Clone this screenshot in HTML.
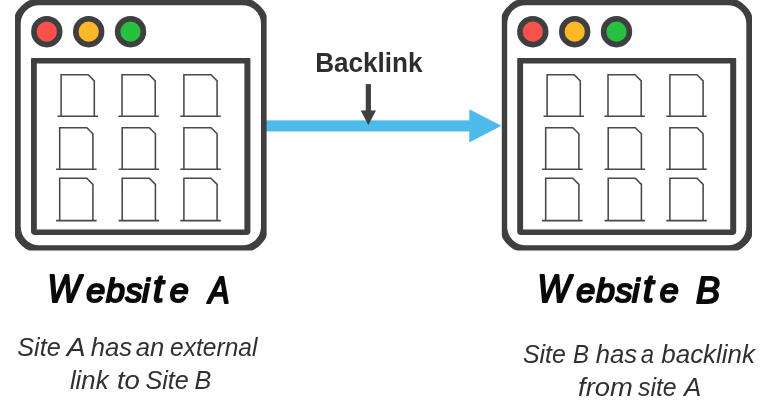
<!DOCTYPE html>
<html lang="en">
<head>
<meta charset="utf-8">
<title>Backlink</title>
<style>
html,body{margin:0;padding:0;background:#fff;}
body{width:780px;height:420px;overflow:hidden;position:relative;font-family:"Liberation Sans",sans-serif;}
svg{position:absolute;left:0;top:0;display:block;will-change:transform;}
text{font-family:"Liberation Sans",sans-serif;}
.hand{font-style:italic;fill:#0a0a0a;stroke:#0a0a0a;stroke-width:2px;stroke-linejoin:round;stroke-linecap:round;}
.cap{font-style:italic;fill:#303030;}
.lbl{font-weight:bold;fill:#2e2e2e;}
</style>
</head>
<body>
<svg width="780" height="420" viewBox="0 0 780 420">
<rect width="780" height="420" fill="#ffffff"/>
<!-- blue arrow -->
<rect x="264" y="120.35" width="207" height="11.1" fill="#4cbbeb"/>
<path d="M469.3 109.2L501.4 125.8L469.3 142.5Z" fill="#4cbbeb"/>
<!-- small arrow -->
<rect x="365.75" y="84.1" width="5.2" height="27" fill="#3f3f41"/>
<path d="M360.7 110.4H376.0L368.35 125.0Z" fill="#3f3f41"/>
<path fill="#3f3f41" fill-rule="evenodd" d="M31.25 -0.10H250.35C255.23 -0.10 266.60 11.28 266.60 16.15V235.20C266.60 239.82 255.82 250.60 251.20 250.60H30.40C25.78 250.60 15.00 239.82 15.00 235.20V16.15C15.00 11.28 26.38 -0.10 31.25 -0.10ZM39.20 5.20H242.50A18.5 18.5 0 0 1 261.00 23.70V226.85A18.5 18.5 0 0 1 242.50 245.35H39.20A18.5 18.5 0 0 1 20.70 226.85V23.70A18.5 18.5 0 0 1 39.20 5.20Z"/>
<path fill="#3f3f41" fill-rule="evenodd" d="M32.00 58.10H249.40C249.95 58.10 250.40 58.55 250.40 59.10V231.40C250.40 233.39 248.79 235.00 246.80 235.00H34.60C32.61 235.00 31.00 233.39 31.00 231.40V59.10C31.00 58.55 31.45 58.10 32.00 58.10ZM37.10 63.40H244.10A0.3 0.3 0 0 1 244.40 63.70V229.20A0.3 0.3 0 0 1 244.10 229.50H37.10A0.3 0.3 0 0 1 36.80 229.20V63.70A0.3 0.3 0 0 1 37.10 63.40Z"/>
<circle cx="46.8" cy="31.7" r="12.9" fill="#f9524a" stroke="#3f3f41" stroke-width="5.6"/>
<circle cx="88.7" cy="31.7" r="12.9" fill="#fdb827" stroke="#3f3f41" stroke-width="5.6"/>
<circle cx="130.5" cy="31.7" r="12.9" fill="#27c13f" stroke="#3f3f41" stroke-width="5.6"/>
<path d="M57.5 116.3H98.0M61.1 116.3V74.8H88.2L94.3 80.9V116.3M118.4 116.3H158.9M122.0 116.3V74.8H149.1L155.2 80.9V116.3M180.3 116.3H220.8M183.9 116.3V74.8H211.0L217.1 80.9V116.3M56.1 169.2H96.6M59.7 169.2V127.7H86.8L92.9 133.8V169.2M118.6 169.2H159.1M122.2 169.2V127.7H149.3L155.4 133.8V169.2M180.3 169.2H220.8M183.9 169.2V127.7H211.0L217.1 133.8V169.2M56.1 220.6H96.6M59.7 220.6V178.3H86.8L92.9 184.4V220.6M118.6 220.6H159.1M122.2 220.6V178.3H149.3L155.4 184.4V220.6M180.3 220.6H220.8M183.9 220.6V178.3H211.0L217.1 184.4V220.6" fill="none" stroke="#48484a" stroke-width="1.55" stroke-linejoin="miter"/>
<path fill="#3f3f41" fill-rule="evenodd" d="M518.05 -0.10H735.75C740.62 -0.10 752.00 11.28 752.00 16.15V235.20C752.00 239.82 741.22 250.60 736.60 250.60H517.20C512.58 250.60 501.80 239.82 501.80 235.20V16.15C501.80 11.28 513.17 -0.10 518.05 -0.10ZM525.70 5.20H727.80A18.5 18.5 0 0 1 746.30 23.70V226.85A18.5 18.5 0 0 1 727.80 245.35H525.70A18.5 18.5 0 0 1 507.20 226.85V23.70A18.5 18.5 0 0 1 525.70 5.20Z"/>
<path fill="#3f3f41" fill-rule="evenodd" d="M518.20 58.10H735.20C735.75 58.10 736.20 58.55 736.20 59.10V231.40C736.20 233.39 734.59 235.00 732.60 235.00H520.80C518.81 235.00 517.20 233.39 517.20 231.40V59.10C517.20 58.55 517.65 58.10 518.20 58.10ZM523.40 63.40H729.90A0.3 0.3 0 0 1 730.20 63.70V229.20A0.3 0.3 0 0 1 729.90 229.50H523.40A0.3 0.3 0 0 1 523.10 229.20V63.70A0.3 0.3 0 0 1 523.40 63.40Z"/>
<circle cx="532.8" cy="31.7" r="12.9" fill="#f9524a" stroke="#3f3f41" stroke-width="5.6"/>
<circle cx="574.7" cy="31.7" r="12.9" fill="#fdb827" stroke="#3f3f41" stroke-width="5.6"/>
<circle cx="616.5" cy="31.7" r="12.9" fill="#27c13f" stroke="#3f3f41" stroke-width="5.6"/>
<path d="M543.5 116.3H584.0M547.1 116.3V74.8H574.2L580.3 80.9V116.3M604.4 116.3H644.9M608.0 116.3V74.8H635.1L641.2 80.9V116.3M666.3 116.3H706.8M669.9 116.3V74.8H697.0L703.1 80.9V116.3M542.1 169.2H582.6M545.7 169.2V127.7H572.8L578.9 133.8V169.2M604.6 169.2H645.1M608.2 169.2V127.7H635.3L641.4 133.8V169.2M666.3 169.2H706.8M669.9 169.2V127.7H697.0L703.1 133.8V169.2M542.1 220.6H582.6M545.7 220.6V178.3H572.8L578.9 184.4V220.6M604.6 220.6H645.1M608.2 220.6V178.3H635.3L641.4 184.4V220.6M666.3 220.6H706.8M669.9 220.6V178.3H697.0L703.1 184.4V220.6" fill="none" stroke="#48484a" stroke-width="1.55" stroke-linejoin="miter"/>
<text class="lbl" x="315.2" y="71.6" font-size="27.3" textLength="107.3" lengthAdjust="spacingAndGlyphs">Backlink</text>
<text class="hand" x="47.4 86.2 106.0 125.6 142.0 153.0 169.8" y="301.8" font-size="34"><tspan font-size="38" textLength="33" lengthAdjust="spacingAndGlyphs">W</tspan>ebsi<tspan font-size="38">t</tspan>e <tspan x="208.4" y="302.8" font-size="36" textLength="21" lengthAdjust="spacingAndGlyphs">A</tspan></text>
<text class="hand" x="537.4 576.2 596.0 615.6 632.0 643.0 659.8" y="301.8" font-size="34"><tspan font-size="38" textLength="33" lengthAdjust="spacingAndGlyphs">W</tspan>ebsi<tspan font-size="38">t</tspan>e <tspan x="696.0" y="302.8" font-size="36">B</tspan></text>
<text class="cap" y="355.6" font-size="26.5"><tspan x="17.2" textLength="43.5" lengthAdjust="spacingAndGlyphs">Site</tspan> <tspan x="66.8" textLength="17.8" lengthAdjust="spacingAndGlyphs">A</tspan> <tspan x="90.8" textLength="41.4" lengthAdjust="spacingAndGlyphs">has</tspan> <tspan x="135.8" textLength="28.5" lengthAdjust="spacingAndGlyphs">an</tspan> <tspan x="170.1" textLength="87.4" lengthAdjust="spacingAndGlyphs">external</tspan></text>
<text class="cap" y="389.1" font-size="26.5"><tspan x="69.9" textLength="38.6" lengthAdjust="spacingAndGlyphs">link</tspan> <tspan x="116.9" textLength="23.0" lengthAdjust="spacingAndGlyphs">to</tspan> <tspan x="145.4" textLength="43.5" lengthAdjust="spacingAndGlyphs">Site</tspan> <tspan x="194.6" textLength="16.8" lengthAdjust="spacingAndGlyphs">B</tspan></text>
<text class="cap" y="362.6" font-size="26.5"><tspan x="522.9" textLength="43.0" lengthAdjust="spacingAndGlyphs">Site</tspan> <tspan x="573.0" textLength="16.0" lengthAdjust="spacingAndGlyphs">B</tspan> <tspan x="595.8" textLength="41.4" lengthAdjust="spacingAndGlyphs">has</tspan> <tspan x="640.8" textLength="13.3" lengthAdjust="spacingAndGlyphs">a</tspan> <tspan x="661.3" textLength="93.7" lengthAdjust="spacingAndGlyphs">backlink</tspan></text>
<text class="cap" y="396.4" font-size="26.5"><tspan x="578.1" textLength="54.7" lengthAdjust="spacingAndGlyphs">from</tspan> <tspan x="638.0" textLength="38.7" lengthAdjust="spacingAndGlyphs">site</tspan> <tspan x="684.1" textLength="17.3" lengthAdjust="spacingAndGlyphs">A</tspan></text>
</svg>
</body>
</html>
